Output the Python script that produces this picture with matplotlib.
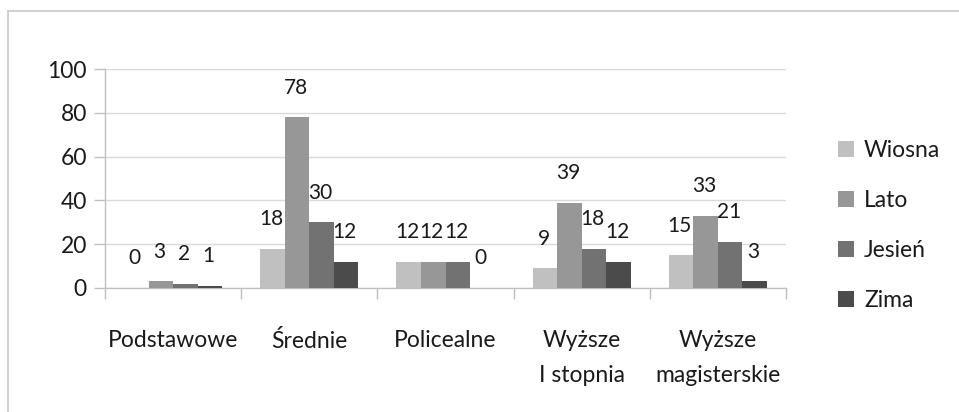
import matplotlib
matplotlib.use("Agg")
import matplotlib.pyplot as plt
import numpy as np
from matplotlib.lines import Line2D

plt.rcParams['font.family'] = ['Lato', 'DejaVu Sans']

categories = ["Podstawowe", "Średnie", "Policealne", "Wyższe\nI stopnia", "Wyższe\nmagisterskie"]
series_names = ["Wiosna", "Lato", "Jesień", "Zima"]
wiosna = [0, 18, 12, 9, 15]
lato = [3, 78, 12, 39, 33]
jesien = [2, 30, 12, 18, 21]
zima = [1, 12, 0, 12, 3]
y_ticks = [0, 20, 40, 60, 80, 100]

COLORS = ["#c0c0c0", "#979797", "#727272", "#4b4b4b"]
AXIS_GRAY = "#bfbfbf"
GRID_GRAY = "#d9d9d9"
TXT = "#1a1a1a"
FS = 16.5      # axis / legend text
FS_LAB = 15    # data labels (kept a bit smaller so "12 12 12" doesn't run together)

fig = plt.figure(figsize=(9.59, 4.12), dpi=100)
ax = fig.add_axes([105 / 959, 1 - 288 / 412, 681 / 959, 219 / 412])

x = np.arange(len(categories))
bw = 0.18
values = [wiosna, lato, jesien, zima]
bars = []
for i, (vals, col) in enumerate(zip(values, COLORS)):
    off = (i - 1.5) * bw
    b = ax.bar(x + off, vals, bw, color=col, edgecolor="none", zorder=3, label=series_names[i])
    bars.append(b)
    for xi, v in zip(x + off, vals):
        ax.annotate(str(v), (xi, v), xytext=(-1, 17), textcoords="offset points",
                    ha="center", va="baseline", fontsize=FS_LAB, color=TXT)

ax.set_xlim(-0.5, len(categories) - 0.5)
ax.set_ylim(0, 100)
ax.set_yticks(y_ticks)
ax.set_yticklabels([str(t) for t in y_ticks], fontsize=FS, color=TXT)
ax.yaxis.grid(True, color=GRID_GRAY, lw=1, zorder=0)
ax.set_axisbelow(True)

# ticks sit between categories, names centred under each group
ax.set_xticks(np.arange(len(categories) + 1) - 0.5)
ax.set_xticklabels([])
ax.tick_params(axis="x", length=8, color=AXIS_GRAY, width=1)
ax.tick_params(axis="y", length=8, color=AXIS_GRAY, width=1, pad=5)
for xi, name in zip(x, categories):
    ax.text(xi, -0.19, name, transform=ax.get_xaxis_transform(), ha="center", va="top",
            fontsize=FS, color=TXT, linespacing=1.85)

for s in ["top", "right"]:
    ax.spines[s].set_visible(False)
for s in ["left", "bottom"]:
    ax.spines[s].set_color(AXIS_GRAY)
    ax.spines[s].set_linewidth(1)

leg = fig.legend(handles=bars, labels=series_names, loc="upper left",
                 bbox_to_anchor=(817 / 959, 1 - 119 / 412), frameon=False,
                 fontsize=FS, handlelength=0.7, handleheight=0.7,
                 handletextpad=0.45, labelspacing=1.27)
for t in leg.get_texts():
    t.set_color(TXT)

# outer chart border (only left/top edges fall inside the picture)
fig.add_artist(Line2D([8 / 959, 8 / 959], [0, 1 - 11 / 412], transform=fig.transFigure,
                      color="#c8c8c8", lw=1.2))
fig.add_artist(Line2D([8 / 959, 1], [1 - 11 / 412, 1 - 11 / 412], transform=fig.transFigure,
                      color="#c8c8c8", lw=1.2))

fig.savefig("out.png", dpi=100, facecolor="white")
